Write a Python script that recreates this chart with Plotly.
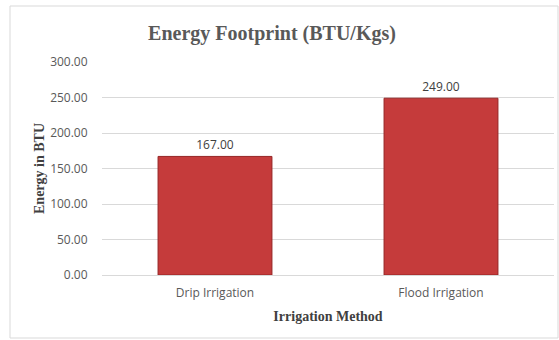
import plotly.graph_objects as go

categories = ["Drip Irrigation", "Flood Irrigation"]
values = [167.00, 249.00]
y_ticks = [0, 50, 100, 150, 200, 250, 300]

W, H = 559, 340
L, R, T, B = 102, 5, 62, 65
pw, ph = W - L - R, H - T - B

fig = go.Figure()
fig.add_trace(go.Bar(
    x=categories, y=values,
    marker=dict(color="#c53b3b", line=dict(color="#962525", width=1)),
    text=values, texttemplate="%{y:.2f}", textposition="outside",
    textfont=dict(family="Open Sans", size=12, color="#404040"),
    cliponaxis=False, width=0.504,
))

fig.update_layout(
    width=W, height=H,
    margin=dict(l=L, r=R, t=T, b=B),
    paper_bgcolor="white", plot_bgcolor="white",
    showlegend=False,
    title=dict(text="<b>Energy Footprint (BTU/Kgs)</b>", x=272 / W, xanchor="center",
               y=1 - 33 / H, yanchor="middle",
               font=dict(family="Liberation Serif", size=20, color="#595959")),
    xaxis=dict(showgrid=False, showline=False, ticks="outside", ticklen=7,
               tickcolor="rgba(0,0,0,0)",
               tickfont=dict(family="Open Sans", size=12, color="#595959"),
               title=dict(text="<b>Irrigation Method</b>", standoff=10,
                          font=dict(family="Liberation Serif", size=14, color="#404040"))),
    yaxis=dict(range=[0, 300], tickvals=y_ticks, tickformat=".2f",
               showgrid=True, gridcolor="#d9d9d9", gridwidth=1,
               zeroline=True, zerolinecolor="#d9d9d9", zerolinewidth=1,
               ticks="outside", ticklen=11, tickcolor="rgba(0,0,0,0)",
               tickfont=dict(family="Open Sans", size=12, color="#595959"),
               title=dict(text="<b>Energy in BTU</b>", standoff=2,
                          font=dict(family="Liberation Serif", size=14, color="#404040"))),
    shapes=[dict(type="rect", xref="paper", yref="paper",
                 x0=(10 - L) / pw, x1=(558 - L) / pw,
                 y0=(H - B - 338) / ph, y1=(H - B - 6) / ph,
                 line=dict(color="#d9d9d9", width=1), fillcolor="rgba(0,0,0,0)",
                 layer="below")],
)

fig.write_html("out.html")
